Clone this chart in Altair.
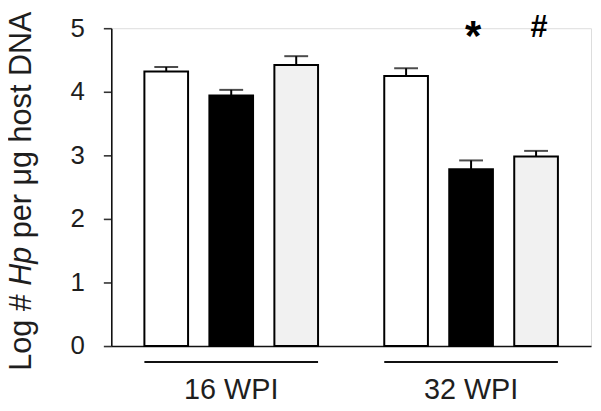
import altair as alt
import pandas as pd

# ---- data ----
groups = ["16 WPI", "32 WPI"]
treatments = ["Group 1", "Group 2", "Group 3"]
bar_group = ["16 WPI", "16 WPI", "16 WPI", "32 WPI", "32 WPI", "32 WPI"]
bar_treatment = ["Group 1", "Group 2", "Group 3", "Group 1", "Group 2", "Group 3"]
means = [4.32, 3.94, 4.42, 4.25, 2.78, 2.98]
errors = [0.07, 0.09, 0.14, 0.12, 0.14, 0.09]
sig_group = ["32 WPI", "32 WPI"]
sig_treatment = ["Group 2", "Group 3"]
sig_symbol = ["*", "#"]
y_ticks = [0, 1, 2, 3, 4, 5]

df = pd.DataFrame({
    "group": bar_group,
    "treatment": bar_treatment,
    "mean": means,
    "err": errors,
})
df["upper"] = df["mean"] + df["err"]

sig_df = pd.DataFrame({"group": sig_group, "treatment": sig_treatment,
                       "symbol": sig_symbol, "y": [5, 5]})

FONT = "Liberation Sans"
TXT = "#1e1e1e"

x_enc = alt.X(
    "group:N",
    scale=alt.Scale(domain=groups, paddingInner=0.276, paddingOuter=0.138),
    axis=alt.Axis(title=None, labelFontSize=29, labelFont=FONT, labelColor=TXT,
                  ticks=False, tickSize=0, labelPadding=30, labelAngle=0,
                  domainColor="#111", domainWidth=1.6),
)
xo_enc = alt.XOffset("treatment:N",
                     scale=alt.Scale(domain=treatments, paddingInner=0.328, paddingOuter=0))
y_scale = alt.Scale(domain=[0, 5], nice=False)

base = alt.Chart(df)

bars = base.mark_bar(stroke="black", strokeWidth=2).encode(
    x=x_enc,
    xOffset=xo_enc,
    y=alt.Y("mean:Q", scale=y_scale,
            axis=alt.Axis(title=None, values=y_ticks, grid=False, tickSize=8,
                          tickWidth=1.6, tickColor="#333", domainColor="#111",
                          domainWidth=1.6, labelFontSize=26, labelFont=FONT,
                          labelColor=TXT, labelPadding=19, format="d")),
    fill=alt.Fill("treatment:N",
                  scale=alt.Scale(domain=treatments, range=["white", "black", "#f1f1f1"]),
                  legend=None),
)

err_line = base.mark_rule(color="black", strokeWidth=2).encode(
    x="group:N", xOffset=xo_enc,
    y="mean:Q", y2="upper:Q",
)
err_cap = base.mark_tick(color="black", size=24, thickness=2).encode(
    x="group:N", xOffset=xo_enc,
    y="upper:Q",
)

underline = alt.Chart(pd.DataFrame({"group": groups})).mark_rect(color="#111").encode(
    x=alt.X("group:N"),
    y=alt.value(335),
    y2=alt.value(337),
)

star = alt.Chart(sig_df).transform_filter(alt.datum.symbol == "*").mark_text(
    font=FONT, fontWeight="bold", fontSize=42, color="black",
    baseline="alphabetic", dy=22, dx=2,
).encode(x="group:N", xOffset=xo_enc, y=alt.Y("y:Q"), text="symbol:N")

hashm = alt.Chart(sig_df).transform_filter(alt.datum.symbol == "#").mark_text(
    font=FONT, fontWeight="bold", fontSize=31, color="black",
    baseline="alphabetic", dy=9, dx=3,
).encode(x="group:N", xOffset=xo_enc, y=alt.Y("y:Q"), text="symbol:N")

# y-axis title with italic "Hp" (three rotated text pieces)
TF = 30.8
y0 = 345.0
xb = -80.5
seg1 = alt.Chart(alt.Data(values=[{}])).mark_text(
    text="Log #", font=FONT, fontSize=TF, color=TXT, angle=270,
    align="left", baseline="alphabetic",
).encode(x=alt.value(xb), y=alt.value(y0))
seg2 = alt.Chart(alt.Data(values=[{}])).mark_text(
    text="Hp", font=FONT, fontSize=TF, fontStyle="italic", color=TXT, angle=270,
    align="left", baseline="alphabetic",
).encode(x=alt.value(xb), y=alt.value(y0 - 2.78 * TF))
seg3 = alt.Chart(alt.Data(values=[{}])).mark_text(
    text="per μg host DNA", font=FONT, fontSize=TF, color=TXT, angle=270,
    align="left", baseline="alphabetic",
).encode(x=alt.value(xb), y=alt.value(y0 - (2.78 + 1.278 + 0.278) * TF))

chart = alt.layer(
    bars, err_line, err_cap, underline, star, hashm, seg1, seg2, seg3
).properties(
    width=483, height=320,
    autosize=alt.AutoSizeParams(type="none"),
    padding={"left": 104, "top": 19, "right": 2, "bottom": 56},
).configure_view(stroke=None).configure(background="white")

chart.save("out.html", embed_options={"renderer": "svg", "actions": False})
